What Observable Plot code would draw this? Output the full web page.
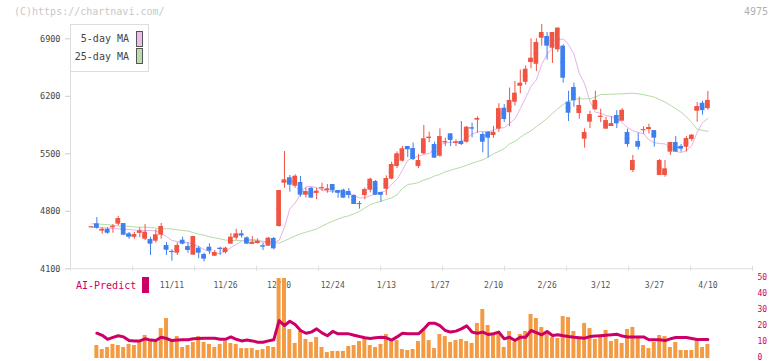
<!DOCTYPE html>
<html><head><meta charset="utf-8">
<script src="https://cdn.jsdelivr.net/npm/d3@7"></script>
<script src="https://cdn.jsdelivr.net/npm/@observablehq/plot@0.6"></script>
<style>
body{margin:0;background:#fff;}
#wrap{position:relative;width:772px;height:361px;overflow:hidden;font-family:"DejaVu Sans Mono",monospace;}
#wrap svg{position:absolute;left:0;top:0;}
.abs{position:absolute;white-space:nowrap;font-size:10px;line-height:10px;}
</style></head><body><div id="wrap"></div>
<script>
// ---- data ----
const open = [4608,4648,4563,4582,4606,4643,4651,4526,4485,4533,
4460,4457,4436,4509,4384,4313,4290,4448,4372,4266,
4351,4274,4363,4253,4351,4298,4400,4473,4526,4477,
4400,4408,4380,4375,4469,4615,5142,5208,5105,5151,
4996,5081,5020,5081,5053,5126,5053,5057,5041,4992,
4895,4992,5057,5163,5029,5069,5191,5345,5410,5589,
5564,5345,5500,5693,5613,5471,5640,5743,5630,5650,
5641,5816,5915,5735,5763,5723,5800,6055,6000,6128,
6323,6370,6611,6590,6907,6928,6785,6766,6810,6128,
6307,5990,5678,5885,6036,5950,5800,5832,5966,5897,
5760,5296,5650,5790,5795,5783,5236,5236,5520,5637,
5590,5580,5674,6018,6115,6050];
const high = [4615,4724,4599,4599,4640,4737,4651,4542,4545,4599,
4639,4485,4575,4652,4420,4331,4416,4485,4416,4493,
4372,4290,4404,4323,4363,4363,4530,4583,4566,4489,
4493,4465,4412,4481,4481,5053,5528,5236,5244,5224,
5085,5089,5081,5142,5126,5126,5053,5069,5077,5000,
4919,5081,5203,5175,5033,5232,5399,5524,5589,5589,
5630,5492,5845,5763,5642,5804,5690,5743,5670,5893,
5833,5873,5950,5763,5771,5833,6110,6100,6300,6380,
6520,6570,6900,6900,7074,6977,6977,7034,6827,6262,
6360,6190,5805,6018,6262,6042,5944,5953,6026,6050,
5800,5480,5752,5830,5860,5783,5430,5418,5637,5710,
5613,5710,5735,6124,6140,6260];
const low = [4605,4582,4521,4521,4533,4623,4509,4460,4460,4477,
4444,4262,4412,4460,4262,4193,4262,4392,4290,4266,
4222,4185,4274,4253,4262,4282,4400,4448,4473,4400,
4400,4400,4323,4375,4331,4607,5081,5033,5081,4972,
4960,4960,4940,5045,5020,5016,4960,4960,4952,4883,
4826,4940,5024,4996,4911,4992,5183,5320,5398,5455,
5418,5320,5488,5634,5447,5459,5589,5589,5585,5601,
5630,5695,5750,5512,5450,5690,5760,5880,5830,6080,
6230,6335,6535,6500,6810,6640,6600,6733,6360,5893,
6067,5920,5568,5808,6030,5880,5800,5832,5808,5897,
5580,5272,5545,5740,5740,5580,5236,5215,5480,5520,
5520,5520,5650,5885,5970,6030];
const close = [4612,4594,4582,4533,4618,4712,4509,4485,4517,4562,
4546,4400,4514,4615,4326,4305,4384,4400,4323,4493,
4290,4217,4314,4298,4343,4351,4485,4526,4502,4400,
4424,4436,4372,4473,4343,5053,5183,5118,5227,4996,
5041,4960,5045,5090,5073,5049,5020,4960,4992,4883,
4891,5065,5191,4996,4996,5199,5370,5500,5561,5549,
5430,5418,5683,5703,5447,5710,5650,5662,5645,5613,
5824,5808,5930,5641,5690,5763,6050,5917,6150,6238,
6360,6530,6664,6855,6977,6810,6977,7030,6420,5994,
6145,6088,5760,5978,6150,5958,5905,5868,5865,6030,
5613,5418,5580,5795,5820,5690,5418,5317,5637,5520,
5558,5686,5727,6075,6026,6150];
const volume = [null,8.1,5.6,6.9,8.8,8.1,6.9,8.8,8.1,10.6,
14.4,10.6,11.2,18.7,25,10.6,13.7,6.9,8.1,10,
13.7,10,8.8,6.9,8.8,10.6,9.4,8.8,6.2,6.2,
6.2,5,5.6,7.5,6.9,60,58,18.1,9.4,16.9,
11.9,10,13.1,6.9,3.7,4.4,4.4,4.4,7.5,8.1,
10.6,12.5,8.1,6.9,8.8,15,11.9,11.2,5.6,5,
5.6,10.6,17.5,11.2,6.2,15,13.7,10,11.2,11.9,
10.6,9.4,21.9,30.6,20.6,14.4,15.6,6.9,16.9,10,
15,16.9,27.5,25,19.4,16.9,13.1,12.5,26.2,25.6,
16.9,12.5,21.9,18.7,11.9,15,17.5,10.6,11.9,9.4,
18.1,19.4,12.5,8.1,6.2,10,14.4,13.7,6.9,10,
5,5,5,12.5,6.9,8.8];
const aiPredict = [null,15.8,14.5,12.0,13.2,14.2,13.5,11.2,11.0,11.0,
12.3,11.5,11.2,13.3,12.5,11.2,11.5,11.7,11.7,12.3,
12.5,12.7,12.7,12.7,12.0,12.0,13.5,12.0,11.0,11.5,
11.0,10.2,10.2,11.0,11.7,23.7,20.6,23.3,21.2,17.5,
15.8,16.5,18.5,16.0,14.2,16.9,15.4,15.4,15.4,14.5,
13.7,13.0,12.5,13.0,13.3,12.9,11.5,13.5,15.8,15.4,
15.4,15.4,18.5,22.1,22.1,20.5,17.5,16.5,17.1,18.5,
20.4,16.5,15.8,16.5,15.0,15.5,16.5,12.3,13.3,11.2,
13.3,13.3,17.5,16.2,14.8,16.9,14.4,14.8,14.2,13.7,
13.3,13.0,12.7,13.7,14.0,14.2,14.5,14.8,15.2,14.0,
13.5,13.5,13.5,13.5,11.7,11.7,11.7,11.2,12.3,13.1,
13.1,13.1,12.5,11.9,11.9,11.9];
const ma5 = [4606,4606,4603,4597,4590,4587,4585,4578,4572,4569,
4566,4566,4560,4530,4493,4445,4432,4424,4420,4396,
4372,4335,4310,4292,4286,4310,4359,4396,4438,4457,
4457,4450,4424,4424,4424,4445,4606,4830,4900,5013,
5100,5102,5090,5060,5045,5040,5045,5035,5020,4992,
4962,4965,4990,5013,5030,5053,5130,5190,5300,5420,
5450,5470,5492,5505,5550,5610,5630,5641,5641,5655,
5690,5740,5765,5771,5765,5790,5817,5817,5870,5926,
6050,6180,6320,6400,6590,6710,6790,6880,6900,6830,
6717,6480,6350,6140,6006,5994,5966,5954,5925,5880,
5820,5780,5760,5745,5670,5635,5625,5620,5570,5530,
5515,5540,5600,5760,5880,5930];
const ma25 = [4648,4645,4642,4638,4630,4622,4619,4617,4610,4606,
4606,4604,4595,4590,4587,4585,4575,4566,4560,4540,
4520,4510,4490,4477,4465,4450,4445,4445,4445,4445,
4445,4443,4435,4430,4420,4412,4440,4470,4500,4525,
4545,4565,4585,4620,4650,4680,4705,4730,4745,4770,
4800,4840,4880,4905,4920,4945,4965,5000,5080,5126,
5135,5150,5180,5200,5230,5250,5280,5300,5320,5337,
5360,5385,5405,5427,5460,5500,5530,5561,5622,5650,
5700,5745,5780,5830,5880,5930,5990,6050,6100,6140,
6165,6170,6170,6170,6190,6222,6222,6225,6228,6230,
6235,6238,6230,6220,6205,6190,6160,6130,6090,6050,
6006,5950,5880,5800,5784,5775];
const dateLabels = ["11/11","11/26","12/10","12/24","1/13","1/27","2/10","2/26","3/12","3/27","4/10"];
const dateIdx = [15,25,35,45,55,65,75,85,95,105,115];
const priceTicks = [4100,4800,5500,6200,6900];
const volTicks = [0,10,20,30,40,50];

[high,low,close,volume,aiPredict,ma5,ma25].forEach((a,k)=>{ if(a.length!==open.length) throw new Error("length mismatch "+k+": "+a.length); });

// ---- styles ----
const RED="#f05442", BLUE="#3f7fee", PINK="#e6b2ea", GREEN="#b4dba8", ORANGE="#f49a42", AI="#cc0066", GRID="#dddddd";
const W=772, H=361, ML=70, MR=20;
const xDomain=[-3.92,123.32];
const gridTicks = d3.range(12).map(k => xDomain[0] + k*(xDomain[1]-xDomain[0])/11);
const half=0.44;

const candles = open.map((o,i)=>({i, o, h:high[i], l:low[i], c:close[i]}));
const up = candles.filter(d=>d.c>=d.o), down = candles.filter(d=>d.c<d.o);

const candleMarks = (data,color)=>[
  Plot.ruleX(data,{x:"i", y1:"l", y2:"h", stroke:color, strokeWidth:1}),
  Plot.rect(data,{x1:d=>d.i-half, x2:d=>d.i+half, y1:"o", y2:"c", fill:color}),
  Plot.ruleY(data,{x1:d=>d.i-half, x2:d=>d.i+half, y:d=>(d.o+d.c)/2, stroke:color, strokeWidth:1})
];

const price = Plot.plot({
  width:W, height:H, marginLeft:ML, marginRight:MR, marginTop:24, marginBottom:H-268.3,
  x:{domain:xDomain, axis:null, label:null},
  y:{domain:[4100,6900], range:[268.3,38.3], axis:null, label:null},
  style:{fontFamily:"DejaVu Sans Mono", background:"transparent", overflow:"visible"},
  marks:[
    Plot.frame({anchor:"left", stroke:GRID}),
    Plot.frame({anchor:"bottom", stroke:GRID}),
    Plot.ruleX(gridTicks,{x:d=>d, y1:4100, y2:4100, insetTop:-2.5, insetBottom:-2.5, stroke:GRID}),
    Plot.axisY(priceTicks,{anchor:"left", label:null, tickSize:5, tickPadding:5, stroke:"#cccccc", fill:"#444", fontSize:8.5, tickFormat:d=>String(d)}),
    Plot.lineY(ma25,{x:(d,i)=>i, y:d=>d, stroke:GREEN, strokeWidth:1}),
    Plot.lineY(ma5,{x:(d,i)=>i, y:d=>d, stroke:PINK, strokeWidth:1}),
    ...candleMarks(up,RED),
    ...candleMarks(down,BLUE)
  ]
});

const vol = Plot.plot({
  width:W, height:H, marginLeft:ML, marginRight:MR, marginTop:278, marginBottom:3,
  x:{domain:xDomain, axis:null, label:null},
  y:{domain:[0,50], axis:null, label:null},
  style:{fontFamily:"DejaVu Sans Mono", background:"transparent", overflow:"visible"},
  marks:[
    Plot.text(dateLabels,{x:(d,i)=>dateIdx[i], frameAnchor:"top", dy:4, text:d=>d, fill:"#555", fontSize:8}),
    Plot.rectY(volume.map((v,i)=>({i,v})).filter(d=>d.v!=null),{x1:d=>d.i-0.37, x2:d=>d.i+0.37, y1:0, y2:"v", fill:ORANGE, clip:true}),
    Plot.lineY(aiPredict,{x:(d,i)=>i, y:d=>d, stroke:AI, strokeWidth:3}),
    Plot.axisY(volTicks,{anchor:"right", label:null, tickSize:0, tickPadding:5, dy:-1, fill:AI, fontSize:8, tickFormat:d=>String(d)})
  ]
});

const wrap=document.getElementById("wrap");
wrap.appendChild(vol);
wrap.appendChild(price);

function addDiv(html, css){ const d=document.createElement("div"); d.className="abs"; d.innerHTML=html; Object.assign(d.style, css); wrap.appendChild(d); return d; }
addDiv("(C)https://chartnavi.com/",{left:"14px", top:"7px", color:"#c8c8c8"});
addDiv("4975",{left:"668px", width:"100px", textAlign:"right", top:"7px", color:"#b0b0b0"});
// legend box
addDiv("",{left:"70px", top:"24px", width:"79px", height:"48px", boxSizing:"border-box", border:"1px solid #dddddd", background:"#fff"});
addDiv("5-day MA",{left:"0px", width:"129px", textAlign:"right", top:"34px", color:"#444"});
addDiv("25-day MA",{left:"0px", width:"129px", textAlign:"right", top:"52px", color:"#444"});
addDiv("",{left:"136px", top:"31px", width:"7px", height:"16px", boxSizing:"border-box", border:"1px solid #555", background:"#eebbee"});
addDiv("",{left:"136px", top:"48px", width:"7px", height:"16px", boxSizing:"border-box", border:"1px solid #555", background:"#bbddaf"});
// AI-Predict legend
addDiv("AI-Predict",{left:"76px", top:"281px", color:AI});
addDiv("",{left:"142px", top:"277px", width:"7px", height:"16px", background:AI});
</script></body></html>
